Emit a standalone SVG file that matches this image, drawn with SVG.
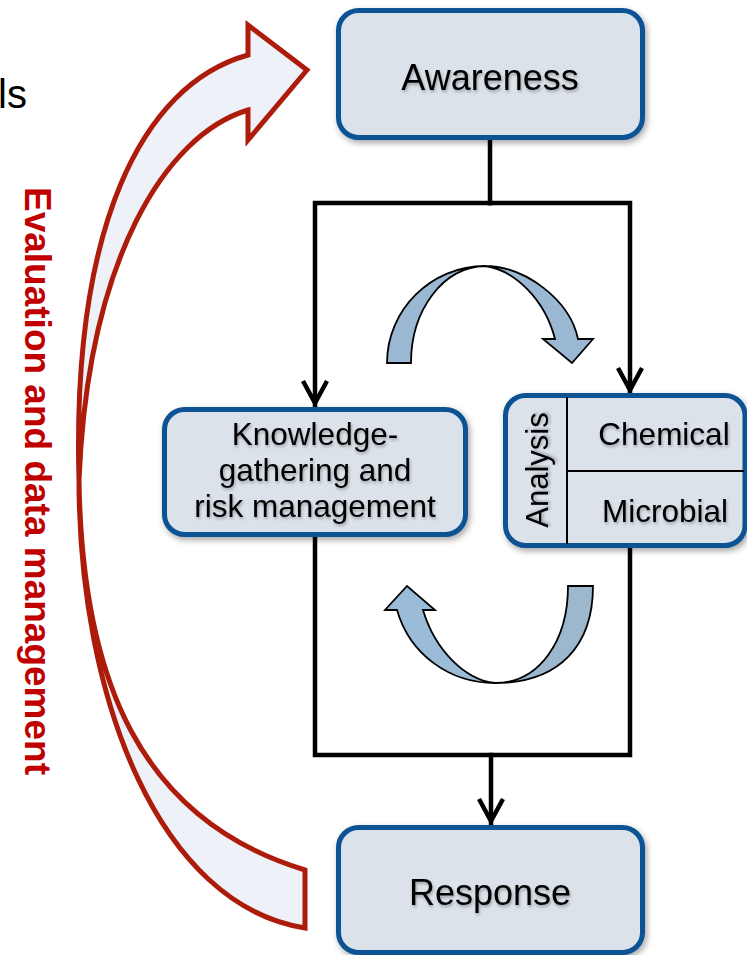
<svg xmlns="http://www.w3.org/2000/svg" width="747" height="955" viewBox="0 0 747 955">
<style>
.box{fill:#dbe2ea;stroke:#0b5394;stroke-width:5;filter:url(#shadow)}
.lbl{font-family:"Liberation Sans",Arial,sans-serif;fill:#000;text-anchor:middle;filter:url(#tshadow)}
.conn{fill:none;stroke:#000;stroke-width:4.5;stroke-linejoin:miter;stroke-linecap:square}
.div{stroke:#000;stroke-width:2}
.blue{stroke:#000;stroke-width:1.8;stroke-linejoin:miter}
</style>
<defs>
<filter id="shadow" x="-10%" y="-10%" width="125%" height="130%">
<feDropShadow dx="2" dy="3" stdDeviation="3" flood-color="#000" flood-opacity="0.35"/>
</filter>
<filter id="tshadow" x="-10%" y="-20%" width="120%" height="150%">
<feDropShadow dx="1" dy="2" stdDeviation="1.5" flood-color="#000" flood-opacity="0.3"/>
</filter>
<marker id="chev" markerUnits="userSpaceOnUse" viewBox="-30 -16 34 32" refX="0" refY="0" markerWidth="34" markerHeight="32" orient="auto">
<path d="M-24,-12 L-2,0 L-24,12" fill="none" stroke="#000" stroke-width="4.5" stroke-linejoin="miter"/>
</marker>
</defs>
<rect width="747" height="955" fill="#fff"/>

<text x="-2" y="108" font-family="Liberation Sans, Arial, sans-serif" font-size="40" fill="#000">ls</text>

<g id="feedback-arrow">
<path d="M307,70 L248,25 L248,55 C140,85 72,230 79,480 C82,680 140,820 305,870 L305,928 C160,905 79,700 79,480 C88,260 165,135 248,110 L248,140 Z" fill="#eef2f8" stroke="#ad1c0b" stroke-width="5" stroke-linejoin="miter"/>
</g>
<g id="feedback-label">
<text transform="translate(25,481) rotate(90)" x="0" y="0" font-family="Liberation Sans, Arial, sans-serif" font-size="37" font-weight="bold" fill="#c00000" text-anchor="middle">Evaluation and data management</text>
</g>

<g id="connectors">
<path class="conn" d="M490,140 V203"/>
<path class="conn" d="M490,203 H315 V405" marker-end="url(#chev)"/>
<path class="conn" d="M490,203 H630 V392" marker-end="url(#chev)"/>
<path class="conn" d="M315,537 V755 H630 V548"/>
<path class="conn" d="M491,755 V823" marker-end="url(#chev)"/>
</g>

<g id="cycle-top">
<path class="blue" fill="#9ab8d3" d="M387,363 C387,309.5 431.5,266 485,266 C525,266 570,300 578,339 L593,339 L572,363 L543,339 L555,339 C545,300 515,270 485,266 C444,266 411,309.5 411,363 Z"/>
</g>
<g id="cycle-bottom">
<path class="blue" fill="#9db7cc" d="M593,586 C593,645 560,683 495,683 C540,683 568,640 568,586 Z"/>
<path class="blue" fill="#9abcd9" d="M495,683 C450,683 410,655 397,610 L385,610 L407,586 L435,610 L423,610 C435,650 465,680 495,683 Z"/>
</g>

<g id="awareness">
<rect class="box" x="338.5" y="10.5" width="304" height="127" rx="20"/>
<text class="lbl" x="490" y="90" font-size="36">Awareness</text>
</g>

<g id="knowledge">
<rect class="box" x="164.5" y="409.5" width="301" height="125" rx="20"/>
<text class="lbl" x="315" y="445" font-size="31.5">Knowledge-</text>
<text class="lbl" x="315" y="481" font-size="31.5">gathering and</text>
<text class="lbl" x="315" y="517" font-size="31.5">risk management</text>
</g>

<g id="analysis">
<rect class="box" x="505.5" y="395.5" width="239.5" height="150" rx="20"/>
<line class="div" x1="567" y1="397" x2="567" y2="544"/>
<line class="div" x1="567" y1="471" x2="744" y2="471"/>
<text class="lbl" transform="translate(548,470) rotate(-90)" x="0" y="0" font-size="31">Analysis</text>
<text class="lbl" x="664" y="445" font-size="31.5">Chemical</text>
<text class="lbl" x="665" y="522" font-size="31.5">Microbial</text>
</g>

<g id="response">
<rect class="box" x="338.5" y="827.5" width="304" height="125" rx="20"/>
<text class="lbl" x="490" y="905" font-size="36">Response</text>
</g>
</svg>
